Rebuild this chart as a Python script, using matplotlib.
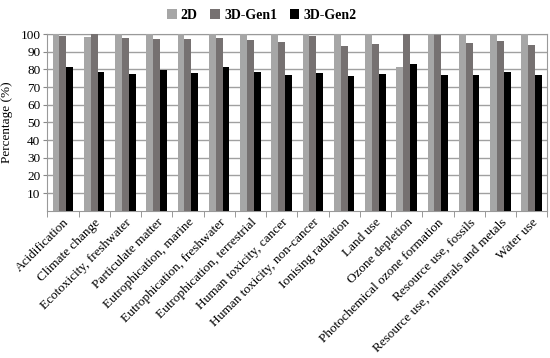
import numpy as np
import matplotlib
matplotlib.use("Agg")
import matplotlib.pyplot as plt

categories = [
    "Acidification", "Climate change", "Ecotoxicity, freshwater",
    "Particulate matter", "Eutrophication, marine",
    "Eutrophication, freshwater", "Eutrophication, terrestrial",
    "Human toxicity, cancer", "Human toxicity, non-cancer",
    "Ionising radiation", "Land use", "Ozone depletion",
    "Photochemical ozone formation", "Resource use, fossils",
    "Resource use, minerals and metals", "Water use",
]
series_names = ["2D", "3D-Gen1", "3D-Gen2"]
vals_2d = [100, 98.5, 100, 100, 100, 100, 100, 100, 100, 100, 100, 81.2, 100, 100, 100, 100]
vals_gen1 = [98.7, 100, 97.6, 97.2, 97.2, 97.6, 96.8, 95.3, 98.7, 93.1, 94.4, 100, 99.4, 94.9, 96.1, 93.6]
vals_gen2 = [81.4, 78.8, 77.3, 79.7, 77.7, 81.1, 78.4, 76.9, 78.1, 76.2, 77.3, 83.1, 77.1, 76.7, 78.6, 77.1]
yticks = list(range(10, 101, 10))

plt.rcParams['font.family'] = ['Liberation Serif', 'DejaVu Serif']

fig = plt.figure(figsize=(5.5, 3.58), dpi=100)
ax = fig.add_axes([0.086, 0.411, 0.909, 0.494])

colors = ["#a6a6a6", "#767171", "#000000"]
x = np.arange(len(categories))
w = 0.22
for i, (vals, name) in enumerate(zip([vals_2d, vals_gen1, vals_gen2], series_names)):
    ax.bar(x + (i - 1) * w, vals, width=w, color=colors[i], label=name, zorder=3)

ax.set_xlim(-0.5, len(categories) - 0.5)
ax.set_ylim(0, 100)
ax.set_yticks(yticks)
ax.tick_params(axis='y', labelsize=9.5, length=3, color="#888888", pad=2)
ax.yaxis.grid(True, color="#a0a0a0", linewidth=1, zorder=0)

ax.set_xticks(x)
ax.set_xticklabels(categories, rotation=45, ha='right', rotation_mode='anchor', fontsize=9.5)
ax.tick_params(axis='x', length=0, pad=4)
ax.set_xticks(np.arange(-0.5, len(categories), 1), minor=True)
ax.tick_params(axis='x', which='minor', length=4, color="#888888")

for s in ax.spines.values():
    s.set_color("#999999")

ax.set_ylabel("Percentage (%)", fontsize=9.5, labelpad=5)

leg = fig.legend(loc='upper center', bbox_to_anchor=(0.476, 1.01), ncol=3, frameon=False,
                 prop={'size': 10, 'weight': 'bold'}, handlelength=0.7, handleheight=0.7,
                 handletextpad=0.3, columnspacing=0.9)

fig.savefig("out.png", dpi=100)
